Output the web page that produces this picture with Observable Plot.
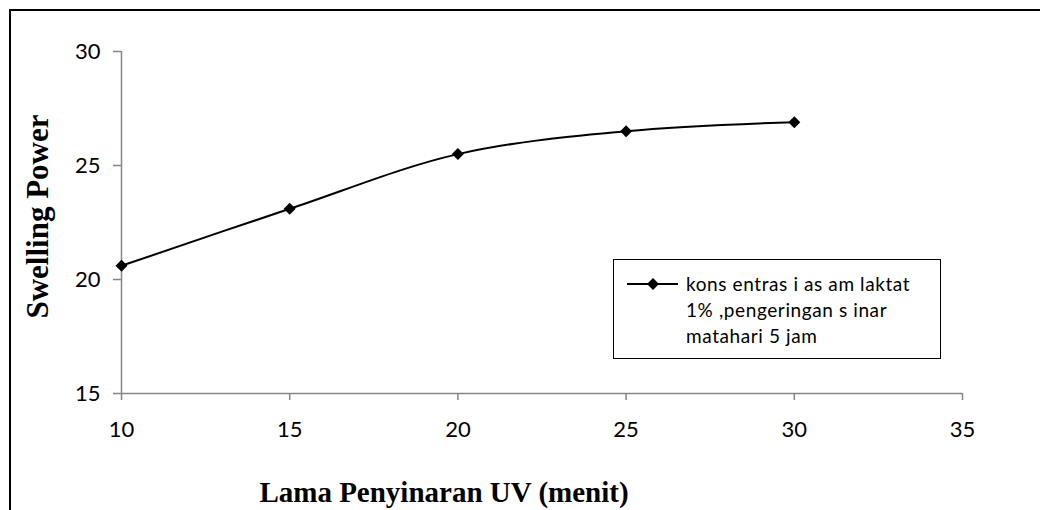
<!DOCTYPE html>
<html>
<head>
<meta charset="utf-8">
<script src="https://cdn.jsdelivr.net/npm/d3@7"></script>
<script src="https://cdn.jsdelivr.net/npm/@observablehq/plot@0.6"></script>
<style>
  html, body { margin: 0; padding: 0; background: #fff; }
  #wrap { position: relative; width: 1040px; height: 510px; overflow: hidden; background: #fff; }
  #border { position: absolute; left: 9px; top: 9px; width: 1100px; height: 600px;
            border-top: 2px solid #000; border-left: 2px solid #000; }
  #chart { position: absolute; left: 0; top: 0; }
  #legend { position: absolute; left: 613px; top: 259px; width: 326px; height: 98px;
            border: 1.5px solid #000; background: #fff; }
  #legend svg { position: absolute; left: 12px; top: 16px; }
  #legend .txt { position: absolute; left: 72px; top: 11px; font-family: Lato, sans-serif;
                 font-size: 19px; line-height: 26px; color: #000; letter-spacing: 0.6px; white-space: nowrap; }
</style>
</head>
<body>
<div id="wrap">
  <div id="border"></div>
  <div id="chart"></div>
  <div id="legend"></div>
</div>
<script>
// Data
const durations = [10, 15, 20, 25, 30];            // Lama Penyinaran UV (menit)
const swelling  = [20.6, 23.1, 25.5, 26.5, 26.9];  // Swelling Power
const xTicks = [10, 15, 20, 25, 30, 35];
const yTicks = [15, 20, 25, 30];
const xTitle = "Lama Penyinaran UV (menit)";
const yTitle = "Swelling Power";
const legendLines = ["kons entras i as am laktat", "1% ,pengeringan s inar", "matahari 5 jam"];

const data = durations.map((d, i) => ({ x: d, y: swelling[i] }));
const axisGray = "#868686";

const plot = Plot.plot({
  width: 1040,
  height: 510,
  marginLeft: 121,
  marginRight: 78,
  marginTop: 51,
  marginBottom: 117,
  x: { domain: [10, 35] },
  y: { domain: [15, 30] },
  style: { fontFamily: "Lato, sans-serif", fontSize: "22px", color: "#000", background: "transparent", overflow: "visible" },
  marks: [
    Plot.ruleX([10], { stroke: axisGray, strokeWidth: 1.5 }),
    Plot.ruleY([15], { stroke: axisGray, strokeWidth: 1.5 }),
    Plot.axisY({ ticks: yTicks, tickSize: 8, tickPadding: 13, stroke: axisGray, strokeWidth: 1.5, fill: "#000",
      fontSize: 22, fontFamily: "Lato, sans-serif", label: null }),
    Plot.axisX({ ticks: xTicks, tickSize: 7, tickPadding: 21, stroke: axisGray, strokeWidth: 1.5, fill: "#000",
      fontSize: 22, fontFamily: "Lato, sans-serif", label: null }),
    Plot.line(data, { x: "x", y: "y", curve: "catmull-rom", stroke: "#000", strokeWidth: 2 }),
    Plot.dot(data, { x: "x", y: "y", symbol: "diamond2", r: 5.4, fill: "#000", stroke: "none" }),
    Plot.text([xTitle], { text: d => d, frameAnchor: "bottom", textAnchor: "middle", lineAnchor: "middle", dx: -98, dy: 99,
      fontFamily: "Liberation Serif", fontWeight: "bold", fontSize: 29, fill: "#000" }),
    Plot.text([yTitle], { text: d => d, frameAnchor: "left", textAnchor: "middle", lineAnchor: "middle", rotate: -90, dx: -83, dy: -6,
      fontFamily: "Liberation Serif", fontWeight: "bold", fontSize: 31, fill: "#000" })
  ]
});
document.getElementById("chart").appendChild(plot);

// Legend (HTML overlay)
const legend = document.getElementById("legend");
const ns = "http://www.w3.org/2000/svg";
const sv = document.createElementNS(ns, "svg");
sv.setAttribute("width", 54); sv.setAttribute("height", 16);
const ln = document.createElementNS(ns, "line");
ln.setAttribute("x1", 1); ln.setAttribute("x2", 52); ln.setAttribute("y1", 8); ln.setAttribute("y2", 8);
ln.setAttribute("stroke", "#000"); ln.setAttribute("stroke-width", 2);
sv.appendChild(ln);
const dm = document.createElementNS(ns, "path");
dm.setAttribute("d", d3.symbol(d3.symbolDiamond2, Math.PI * 5.4 * 5.4)());
dm.setAttribute("transform", "translate(27,8)");
dm.setAttribute("fill", "#000");
sv.appendChild(dm);
legend.appendChild(sv);
const txt = document.createElement("div");
txt.className = "txt";
txt.innerHTML = legendLines.map(s => `<div>${s}</div>`).join("");
legend.appendChild(txt);
</script>
</body>
</html>
